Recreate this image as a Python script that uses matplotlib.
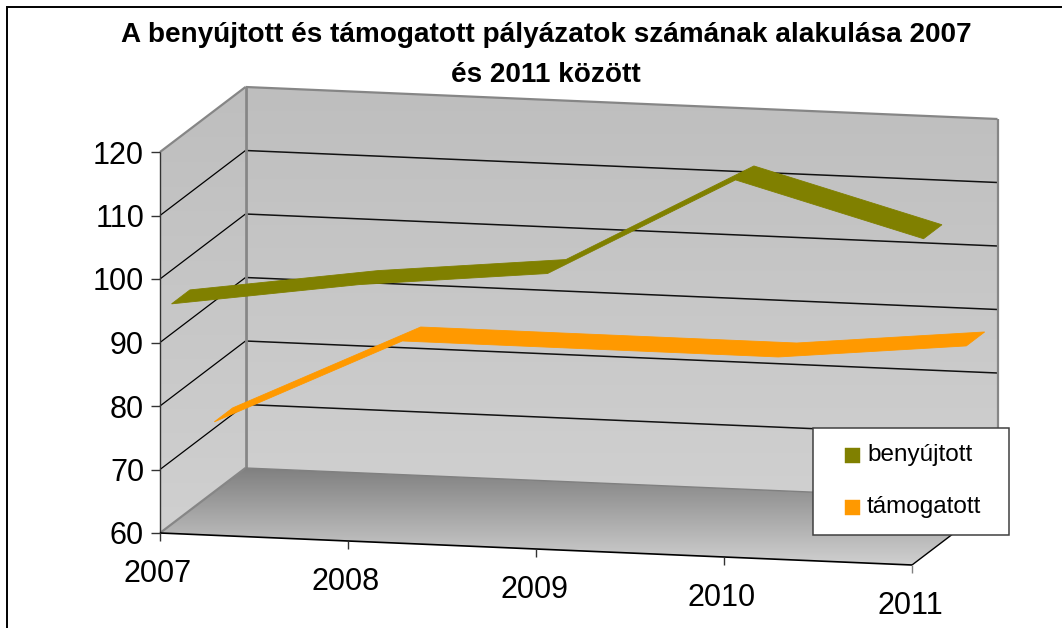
import numpy as np
import matplotlib
matplotlib.use("Agg")
import matplotlib.pyplot as plt
from matplotlib.patches import Polygon, Rectangle
from matplotlib.colors import LinearSegmentedColormap

plt.rcParams['font.family'] = ['Liberation Sans', 'DejaVu Sans']

# ---- data
title = "A benyújtott és támogatott pályázatok számának alakulása 2007\nés 2011 között"
years = ["2007", "2008", "2009", "2010", "2011"]
benyujtott = [94.7, 99, 102, 118, 110]
tamogatott = [71, 85, 85, 85, 88]
y_ticks = [60, 70, 80, 90, 100, 110, 120]
series_names = ["benyújtott", "támogatott"]

OLIVE = "#808000"
ORANGE = "#FF9900"

# ---- oblique 3-D projection: (category, value, depth) -> figure pixels
ORIGIN = np.array([160.0, 533.0])
CAT = np.array([188.0, 8.0])
VAL = np.array([0.0, -6.35])
DEP = np.array([85.5, -65.0])

def proj(c, v, d=0.0):
    return ORIGIN + np.asarray(c)[..., None] * CAT + (np.asarray(v) - y_ticks[0])[..., None] * VAL + np.asarray(d)[..., None] * DEP

fig = plt.figure(figsize=(10.62, 6.28), dpi=100, facecolor="white")
ax = fig.add_axes([0, 0, 1, 1])
ax.set_xlim(0, 1062)
ax.set_ylim(628, 0)
ax.axis("off")

cmax = len(years) - 1
vmin, vmax = y_ticks[0], y_ticks[-1]

def grad_poly(pts, top, bottom, z):
    cm = LinearSegmentedColormap.from_list("g", [top, bottom])
    pts = np.array(pts)
    x0, x1, y0, y1 = pts[:, 0].min(), pts[:, 0].max(), pts[:, 1].min(), pts[:, 1].max()
    im = ax.imshow(np.linspace(0, 1, 256)[:, None], cmap=cm, extent=(x0, x1, y1, y0),
                   aspect="auto", zorder=z, interpolation="bilinear")
    clip = Polygon(pts, closed=True, transform=ax.transData, fc="none", ec="none")
    ax.add_patch(clip)
    im.set_clip_path(clip)

# walls and floor
back = [proj(0, vmin, 1), proj(0, vmax, 1), proj(cmax, vmax, 1), proj(cmax, vmin, 1)]
side = [proj(0, vmin, 0), proj(0, vmax, 0), proj(0, vmax, 1), proj(0, vmin, 1)]
floor = [proj(0, vmin, 0), proj(0, vmin, 1), proj(cmax, vmin, 1), proj(cmax, vmin, 0)]
grad_poly(back, "#BEBEBE", "#D0D0D0", 1)
grad_poly(side, "#BEBEBE", "#D0D0D0", 1)
grad_poly(floor, "#808080", "#D0D0D0", 1)
ax.set_xlim(0, 1062)
ax.set_ylim(628, 0)

def seg(a, b, color, lw, z=2):
    ax.plot([a[0], b[0]], [a[1], b[1]], color=color, lw=lw, zorder=z, solid_capstyle="butt")

# gridlines
for v in y_ticks[1:-1]:
    seg(proj(0, v, 0), proj(0, v, 1), "#000000", 0.9)
    seg(proj(0, v, 1), proj(cmax, v, 1), "#111111", 1.1)

# wall frames
GREY = "#868686"
seg(proj(0, vmax, 0), proj(0, vmax, 1), GREY, 1.6, 3)
seg(proj(0, vmax, 1), proj(cmax, vmax, 1), GREY, 1.6, 3)
seg(proj(0, vmin, 1), proj(0, vmax, 1), GREY, 2.0, 3)
seg(proj(cmax, vmin, 1), proj(cmax, vmax, 1), GREY, 1.6, 3)
seg(proj(0, vmin, 0), proj(0, vmin, 1), GREY, 1.6, 3)
seg(proj(0, vmin, 1), proj(cmax, vmin, 1), "#808080", 1.0, 3)

# axes
seg(proj(0, vmin, 0), proj(0, vmax, 0), "#333333", 1.0, 3)
seg(proj(0, vmin, 0), proj(cmax, vmin, 0), "#000000", 1.2, 3)
seg(proj(cmax, vmin, 0), proj(cmax, vmin, 1), "#000000", 1.0, 3)

# ribbons
def ribbon(values, d0, d1, color, z):
    c = np.arange(len(values))
    v = np.array(values, float)
    front = proj(c, v, np.full(len(c), d0))
    rear = proj(c, v, np.full(len(c), d1))
    ax.add_patch(Polygon(np.vstack([front, rear[::-1]]), closed=True, fc=color, ec=color, lw=0.6, zorder=z))

ribbon(tamogatott, 0.635, 0.85, ORANGE, 4)
ribbon(benyujtott, 0.135, 0.35, OLIVE, 5)

# value ticks
for v in y_ticks:
    p = proj(0, v, 0)
    seg(p, p + np.array([-9, 0]), "#333333", 1.0, 3)
    ax.text(p[0] - 16, p[1] + 3.5, str(v), ha="right", va="center", fontsize=22, color="black", zorder=8)

# category ticks
for i, y in enumerate(years):
    p = proj(i, vmin, 0)
    seg(p, p + np.array([0, 8]), "#333333" if i < cmax else "#808080", 1.0, 3)
    ax.text(p[0] - 2, p[1] + 41.5, y, ha="center", va="center", fontsize=22, color="black", zorder=8)

# title
ax.text(546, 55, title, ha="center", va="center", fontsize=20.1, fontweight="bold",
        color="black", linespacing=1.68, zorder=8)

# legend
ax.add_patch(Rectangle((813, 428), 196, 107, fc="white", ec="#404040", lw=1.1, zorder=6))
for name, col, yc in zip(series_names, [OLIVE, ORANGE], [455.5, 507.5]):
    ax.add_patch(Rectangle((845, yc - 7.5), 15, 15, fc=col, ec=col, lw=0.3, zorder=7))
    ax.text(867, yc - 0.5, name, ha="left", va="center", fontsize=17.5, color="black", zorder=8)

# chart area border (left and top visible)
ax.plot([6.5, 6.5, 1062], [628, 6.5, 6.5], color="black", lw=1.4, zorder=9, solid_joinstyle="miter")

fig.savefig("out.png", dpi=100, facecolor="white")
